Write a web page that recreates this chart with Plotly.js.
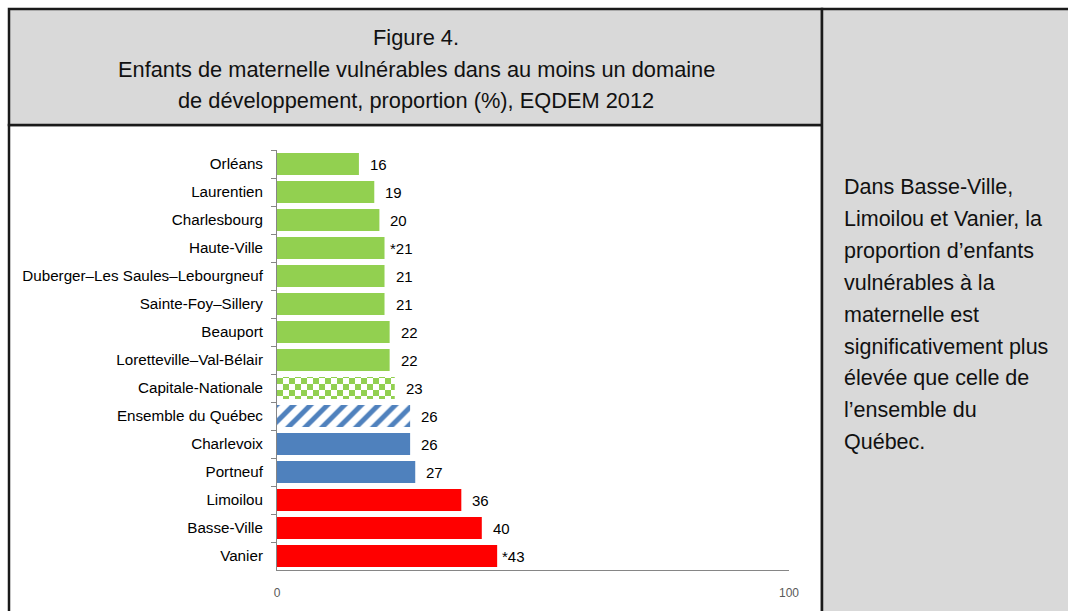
<!DOCTYPE html>
<html><head><meta charset="utf-8">
<script src="https://cdn.plot.ly/plotly-3.0.1.min.js"></script>
<style>html,body{margin:0;padding:0;background:#fff;}#chart{width:1068px;height:611px;}</style>
</head><body><div id="chart"></div>
<script>
// ---- data ----
const categories = ["Orléans","Laurentien","Charlesbourg","Haute-Ville","Duberger–Les Saules–Lebourgneuf","Sainte-Foy–Sillery","Beauport","Loretteville–Val-Bélair","Capitale-Nationale","Ensemble du Québec","Charlevoix","Portneuf","Limoilou","Basse-Ville","Vanier"];
const values = [16,19,20,21,21,21,22,22,23,26,26,27,36,40,43];
const valueLabels = ["16","19","20","*21","21","21","22","22","23","26","26","27","36","40","*43"];
const groups = ["local","local","local","local","local","local","local","local","region","quebec","other","other","high","high","high"];
const xTicks = [0,100];
const titleLines = ["Figure 4.","Enfants de maternelle vulnérables dans au moins un domaine","de développement, proportion (%), EQDEM 2012"];
const noteLines = ["Dans Basse-Ville,","Limoilou et Vanier, la","proportion d’enfants","vulnérables à la","maternelle est","significativement plus","élevée que celle de","l’ensemble du","Québec."];

// ---- styles ----
const groupColor = {local:"#92d050", region:"#92d050", quebec:"#4f81bd", other:"#4f81bd", high:"#ff0000"};
const groupPattern = {local:"", region:"x", quebec:"/", other:"", high:""};
const SANS = "'Liberation Sans', Arial, sans-serif";

const L=277, R=789, T=150, B=570;
const px = x => (x-L)/(R-L);
const py = y => (B-y)/(B-T);

const colors = groups.map(g => groupColor[g]);
const trace = {
  type:"bar", orientation:"h",
  x: values, y: categories,
  marker:{
    color: colors,
    line:{width:0},
    pattern:{
      shape: groups.map(g => groupPattern[g]),
      fgcolor: colors,
      bgcolor: groups.map(() => "#ffffff"),
      size: 12, solidity: 0.42, fillmode:"replace"
    }
  },
  hoverinfo:"none"
};

const border = {color:"#1a1a1a", width:2.5};
const shapes = [
  {type:"rect", xref:"paper", yref:"paper", x0:px(9), x1:px(822), y0:py(125), y1:py(625), fillcolor:"#ffffff", line:border, layer:"below"},
  {type:"rect", xref:"paper", yref:"paper", x0:px(9), x1:px(822), y0:py(9), y1:py(125), fillcolor:"#d9d9d9", line:border, layer:"below"},
  {type:"rect", xref:"paper", yref:"paper", x0:px(822), x1:px(1080), y0:py(9), y1:py(625), fillcolor:"#d9d9d9", line:border, layer:"below"}
];

const annotations = [];
values.forEach((v,i) => annotations.push({
  xref:"x", yref:"y", x:v, y:categories[i], text:valueLabels[i], showarrow:false,
  xanchor:"right", xshift:30, font:{family:SANS, size:15, color:"#000"}
}));
titleLines.forEach((t,i) => annotations.push({
  xref:"paper", yref:"paper", x:px(416), y:py(37+32*i), text:t, showarrow:false,
  xanchor:"center", yanchor:"middle", font:{family:SANS, size:21.8, color:"#111"}
}));
noteLines.forEach((t,i) => annotations.push({
  xref:"paper", yref:"paper", x:px(842), y:py(187+31.9*i), text:t, showarrow:false,
  xanchor:"left", yanchor:"middle", align:"left", font:{family:SANS, size:21.5, color:"#111"}
}));

const layout = {
  width:1068, height:611,
  margin:{l:L, r:1068-R, t:T, b:611-B, pad:0},
  paper_bgcolor:"#ffffff", plot_bgcolor:"rgba(0,0,0,0)",
  showlegend:false, bargap:0.21,
  xaxis:{range:[0,100], tickvals:xTicks, ticktext:xTicks.map(String), showgrid:false, zeroline:false,
    showline:true, linecolor:"#868686", linewidth:1, ticks:"inside", ticklen:5, tickcolor:"#868686",
    tickfont:{family:SANS, size:12, color:"#595959"}, ticklabelstandoff:12, fixedrange:true},
  yaxis:{type:"category", autorange:"reversed", showgrid:false, zeroline:false,
    showline:true, linecolor:"#868686", linewidth:1, ticks:"outside", tickson:"boundaries", ticklen:5, tickcolor:"#868686",
    tickfont:{family:SANS, size:15.2, color:"#000"}, ticklabelstandoff:10, fixedrange:true},
  shapes, annotations
};

Plotly.newPlot("chart", [trace], layout, {displayModeBar:false, staticPlot:true}).then(gd => {
  // checkerboard texture for Capitale-Nationale
  const idx = groups.indexOf("region");
  const paths = gd.querySelectorAll(".barlayer .point path");
  const p = paths[idx];
  if (!p) return;
  const fill = p.style.fill || p.getAttribute("fill") || "";
  const m = /#([^"')]+)/.exec(fill);
  if (!m) return;
  const pat = document.getElementById(m[1]);
  if (!pat) return;
  const NS = "http://www.w3.org/2000/svg";
  while (pat.firstChild) pat.removeChild(pat.firstChild);
  pat.setAttribute("width", 12); pat.setAttribute("height", 12);
  pat.removeAttribute("patternTransform");
  const cells = [[0,0,12,12,"#ffffff"],[0,0,6,6,groupColor.region],[6,6,6,6,groupColor.region]];
  cells.forEach(c => {
    const r = document.createElementNS(NS,"rect");
    r.setAttribute("x",c[0]); r.setAttribute("y",c[1]); r.setAttribute("width",c[2]); r.setAttribute("height",c[3]);
    r.setAttribute("fill",c[4]);
    pat.appendChild(r);
  });
});
</script>
</body></html>
